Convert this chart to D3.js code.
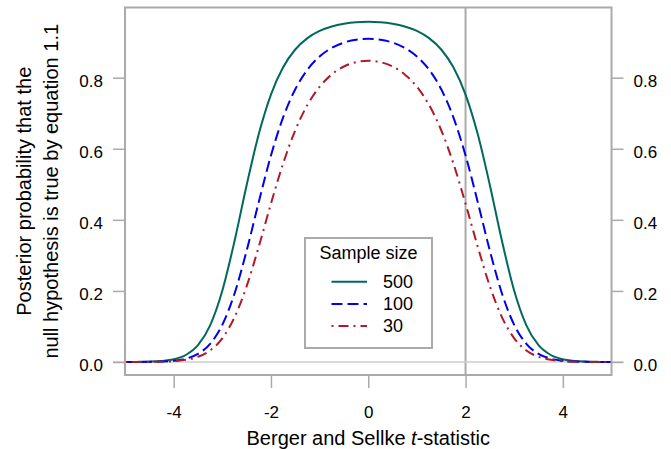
<!DOCTYPE html>
<html>
<head>
<meta charset="utf-8">
<script src="https://cdn.jsdelivr.net/npm/d3@7"></script>
<style>
  body { margin: 0; background: #fff; }
  svg { display: block; font-family: "Liberation Sans", Arial, sans-serif; }
</style>
</head>
<body>
<svg id="chart" width="671" height="449"></svg>
<script>
// t values, read along the x axis
const tValues = [-5, -4.75, -4.5, -4.25, -4, -3.75, -3.5, -3.25, -3, -2.75, -2.5, -2.25, -2, -1.75, -1.5, -1.25, -1, -0.75, -0.5, -0.25,
  0, 0.25, 0.5, 0.75, 1, 1.25, 1.5, 1.75, 2, 2.25, 2.5, 2.75, 3, 3.25, 3.5, 3.75, 4, 4.25, 4.5, 4.75, 5];

// posterior probability of the null, one array per sample size
const n500 = [0.0001, 0.0003, 0.0009, 0.0027, 0.0076, 0.0197, 0.0472, 0.1032, 0.2006, 0.3395, 0.4974, 0.6416, 0.7526, 0.8292, 0.8793, 0.9112, 0.9315, 0.9441, 0.9518, 0.9560,
  0.9572, 0.9560, 0.9518, 0.9441, 0.9315, 0.9112, 0.8793, 0.8292, 0.7526, 0.6416, 0.4974, 0.3395, 0.2006, 0.1032, 0.0472, 0.0197, 0.0076, 0.0027, 0.0009, 0.0003, 0.0001];
const n100 = [0.0000, 0.0001, 0.0004, 0.0013, 0.0036, 0.0094, 0.0228, 0.0511, 0.1045, 0.1921, 0.3129, 0.4505, 0.5811, 0.6882, 0.7674, 0.8226, 0.8597, 0.8838, 0.8988, 0.9069,
  0.9095, 0.9069, 0.8988, 0.8838, 0.8597, 0.8226, 0.7674, 0.6882, 0.5811, 0.4505, 0.3129, 0.1921, 0.1045, 0.0511, 0.0228, 0.0094, 0.0036, 0.0013, 0.0004, 0.0001, 0.0000];
const n30 = [0.0000, 0.0001, 0.0003, 0.0009, 0.0024, 0.0061, 0.0146, 0.0325, 0.0667, 0.1254, 0.2130, 0.3246, 0.4456, 0.5585, 0.6521, 0.7233, 0.7744, 0.8092, 0.8315, 0.8438,
  0.8477, 0.8438, 0.8315, 0.8092, 0.7744, 0.7233, 0.6521, 0.5585, 0.4456, 0.3246, 0.2130, 0.1254, 0.0667, 0.0325, 0.0146, 0.0061, 0.0024, 0.0009, 0.0003, 0.0001, 0.0000];

const seriesNames = ["500", "100", "30"];
const seriesValues = [n500, n100, n30];
const seriesColors = ["#00695c", "#0000f0", "#b2182b"];
const seriesDash = [null, "11,5", "2,5,10,5"];

const xTicks = [-4, -2, 0, 2, 4];
const yTicks = [0, 0.2, 0.4, 0.6, 0.8];
const refT = 2;

const box_color = "#aaaaaa";
const plotLeft = 125, plotRight = 611.5, plotTop = 7.5, plotBottom = 375;

const svg = d3.select("#chart");

const x = d3.scaleLinear().domain([-5, 5]).range([plotLeft, plotRight]);
const y = d3.scaleLinear().domain([-0.0366, 0.9975]).range([plotBottom, plotTop]);

// reference lines
svg.append("line")
    .attr("x1", x(refT)).attr("x2", x(refT))
    .attr("y1", plotTop).attr("y2", plotBottom)
    .attr("stroke", box_color).attr("stroke-width", 2);

svg.append("line")
    .attr("x1", plotLeft - 12).attr("x2", plotRight + 12)
    .attr("y1", y(0)).attr("y2", y(0))
    .attr("stroke", "#cccccc").attr("stroke-width", 1.5);

// axes
const xAxis = svg.append("g")
    .attr("transform", `translate(0,${plotBottom})`)
    .call(d3.axisBottom(x).tickValues(xTicks).tickSize(13).tickPadding(18).tickFormat(d => String(d)));

const yLeft = svg.append("g")
    .attr("transform", `translate(${plotLeft},0)`)
    .call(d3.axisLeft(y).tickValues(yTicks).tickSize(12).tickPadding(10).tickFormat(d3.format(".1f")));

const yRight = svg.append("g")
    .attr("transform", `translate(${plotRight},0)`)
    .call(d3.axisRight(y).tickValues(yTicks).tickSize(12).tickPadding(10).tickFormat(d3.format(".1f")));

[xAxis, yLeft, yRight].forEach(g => {
  g.select(".domain").remove();
  g.selectAll(".tick line").attr("stroke", box_color).attr("stroke-width", 1.5);
  g.selectAll(".tick text").attr("fill", "#000").style("font-size", "17px")
      .style("font-family", '"Liberation Sans", Arial, sans-serif');
});
yLeft.selectAll(".tick text").attr("dy", "0.52em");
yRight.selectAll(".tick text").attr("dy", "0.52em");

// curves
const line = d3.line()
    .curve(d3.curveMonotoneX)
    .x((d, i) => x(tValues[i]))
    .y(d => y(d));

seriesValues.forEach((vals, k) => {
  svg.append("path")
      .attr("d", line(vals))
      .attr("fill", "none")
      .attr("stroke", seriesColors[k])
      .attr("stroke-width", 2)
      .attr("stroke-dasharray", seriesDash[k]);
});

// plot frame
svg.append("rect")
    .attr("x", plotLeft).attr("y", plotTop)
    .attr("width", plotRight - plotLeft).attr("height", plotBottom - plotTop)
    .attr("fill", "none")
    .attr("stroke", box_color).attr("stroke-width", 2);

// legend
const lg = svg.append("g").attr("transform", "translate(305,238)");
lg.append("rect")
    .attr("width", 127).attr("height", 110)
    .attr("fill", "#fff")
    .attr("stroke", box_color).attr("stroke-width", 2);
lg.append("text")
    .attr("x", 63.5).attr("y", 21)
    .attr("text-anchor", "middle")
    .style("font-size", "18px")
    .text("Sample size");
seriesNames.forEach((name, k) => {
  const yy = 43.7 + k * 22.2;
  lg.append("line")
      .attr("x1", 26.5).attr("x2", 62)
      .attr("y1", yy).attr("y2", yy)
      .attr("stroke", seriesColors[k])
      .attr("stroke-width", 2)
      .attr("stroke-dasharray", seriesDash[k]);
  lg.append("text")
      .attr("x", 78).attr("y", yy + 6)
      .style("font-size", "18px")
      .text(name);
});

// axis titles
const xt = svg.append("text")
    .attr("x", (plotLeft + plotRight) / 2).attr("y", 445)
    .attr("text-anchor", "middle")
    .style("font-size", "20px");
xt.append("tspan").text("Berger and Sellke ");
xt.append("tspan").style("font-style", "italic").text("t");
xt.append("tspan").text("-statistic");

const yt = svg.append("text")
    .attr("transform", `translate(31,${(plotTop + plotBottom) / 2}) rotate(-90)`)
    .attr("text-anchor", "middle")
    .style("font-size", "20px");
yt.append("tspan").attr("x", 0).attr("dy", 0).text("Posterior probability that the");
yt.append("tspan").attr("x", 0).attr("dy", 27).text("null hypothesis is true by equation 1.1");
</script>
</body>
</html>
